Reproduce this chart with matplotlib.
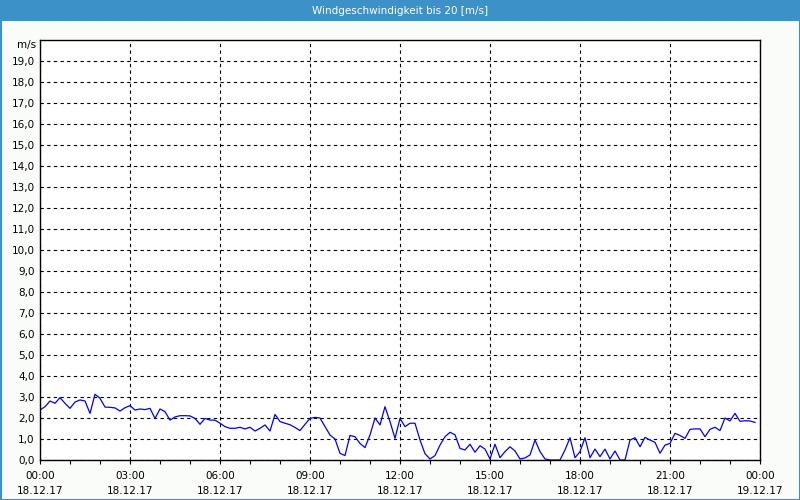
#!/usr/bin/env python3
"""
Wind speed over one day (10-minute values), styled like the station web chart.
"""

import pandas as pd
import matplotlib
matplotlib.use('Agg')
import matplotlib.pyplot as plt
import matplotlib.dates as mdates
from matplotlib.patches import Rectangle
from matplotlib.ticker import FixedLocator, FuncFormatter

TITLE = 'Windgeschwindigkeit bis 20 [m/s]'
UNIT = 'm/s'
START = '2017-12-18 00:00'
END = '2017-12-19 00:00'

# wind speed in m/s, one value every 10 minutes from 18.12.17 00:00
wind = [
    2.38, 2.54, 2.81, 2.70, 2.97, 2.70, 2.46, 2.76, 2.86, 2.81, 2.22, 3.13,
    2.94, 2.52, 2.51, 2.48, 2.33, 2.49, 2.59, 2.38, 2.43, 2.40, 2.46, 1.98,
    2.43, 2.30, 1.90, 2.05, 2.11, 2.11, 2.10, 1.98, 1.70, 1.98, 1.90, 1.90,
    1.75, 1.59, 1.51, 1.51, 1.56, 1.48, 1.56, 1.38, 1.51, 1.67, 1.38, 2.17,
    1.83, 1.75, 1.68, 1.55, 1.40, 1.70, 1.98, 2.03, 2.00, 1.59, 1.19, 1.00,
    0.32, 0.21, 1.17, 1.11, 0.79, 0.59, 1.19, 2.00, 1.67, 2.54, 1.83, 1.03,
    1.98, 1.59, 1.75, 1.75, 0.95, 0.30, 0.05, 0.21, 0.71, 1.11, 1.32, 1.20,
    0.55, 0.48, 0.75, 0.37, 0.68, 0.52, 0.05, 0.75, 0.11, 0.40, 0.63, 0.43,
    0.05, 0.10, 0.24, 0.95, 0.40, 0.05, 0.00, 0.00, 0.00, 0.48, 1.06, 0.11,
    0.40, 1.06, 0.11, 0.52, 0.16, 0.52, 0.05, 0.43, 0.00, 0.00, 0.95, 1.06,
    0.63, 1.08, 0.95, 0.84, 0.32, 0.71, 0.79, 1.27, 1.17, 1.03, 1.46, 1.48,
    1.48, 1.11, 1.46, 1.56, 1.40, 2.00, 1.86, 2.22, 1.84, 1.87, 1.86, 1.79,
]
times = pd.date_range(START, periods=len(wind), freq='10min')

y_ticks = list(range(0, 20))

BLUE_BAR = '#3d91c9'
BG = '#fafcfa'

fig = plt.figure(figsize=(8, 5), dpi=100, facecolor=BG)

# title bar and window frame
fig.add_artist(Rectangle((0, 1 - 21 / 500), 1, 21 / 500, transform=fig.transFigure,
                         facecolor=BLUE_BAR, edgecolor='none'))
fig.add_artist(Rectangle((0.5 / 800, 0.5 / 500), 799 / 800, 499 / 500, transform=fig.transFigure,
                         facecolor='none', edgecolor=BLUE_BAR, lw=1.5))
fig.text(0.5, 1 - 10.5 / 500, TITLE, color='white', ha='center', va='center',
         fontsize=7.5)

ax = fig.add_axes([40 / 800, 40 / 500, 720 / 800, 420 / 500])
ax.set_facecolor('white')
ax.plot(times, wind, color='#0000ff', lw=0.9)

ax.set_xlim(pd.Timestamp(START), pd.Timestamp(END))
ax.set_ylim(0, 20)

ax.xaxis.set_major_locator(mdates.HourLocator(byhour=range(0, 24, 3)))
ax.xaxis.set_minor_locator(mdates.HourLocator())
ax.xaxis.set_major_formatter(mdates.DateFormatter('%H:%M\n%d.%m.%y'))
ax.yaxis.set_major_locator(FixedLocator(y_ticks))
ax.yaxis.set_major_formatter(FuncFormatter(lambda v, p: f'{v:.1f}'.replace('.', ',')))

ax.tick_params(axis='x', which='both', direction='out', length=3, width=0.8,
               labelsize=7.5, pad=5)
ax.tick_params(axis='y', which='both', length=0, labelsize=7.5, pad=4)
for lbl in ax.get_xticklabels():
    lbl.set_linespacing(1.6)

ax.grid(True, which='major', color='black', ls=(0, (3, 3)), lw=0.8)
for s in ax.spines.values():
    s.set_color('black')
    s.set_linewidth(1.0)

ax.text(-4 / 720, 1.0, UNIT, transform=ax.transAxes, ha='right', va='top', fontsize=7.5)

fig.savefig('out.png', dpi=100, facecolor=BG)
